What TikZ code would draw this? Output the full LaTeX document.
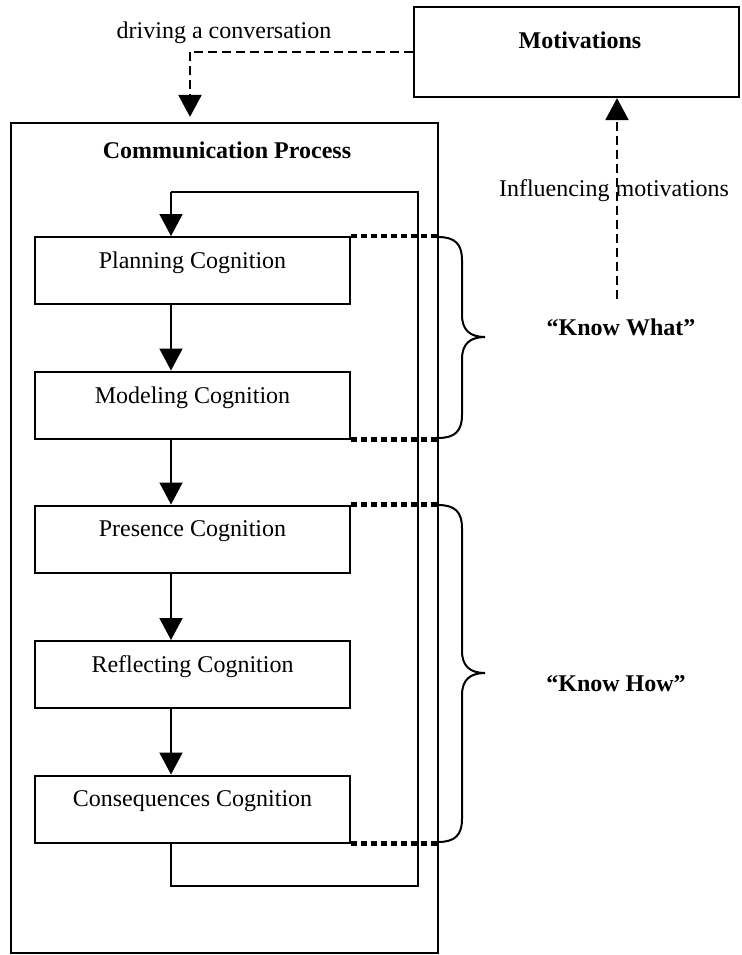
\documentclass[tikz,border=0pt]{standalone}
\usepackage{fontspec}
\setmainfont{Liberation Serif}
\usetikzlibrary{arrows.meta}
\begin{document}
\begin{tikzpicture}[x=0.5pt,y=-0.5pt,
  box/.style={draw,line width=1pt,inner sep=0pt,minimum width=157.5pt,minimum height=33.5pt},
  lbl/.style={inner sep=0pt,font=\fontsize{12pt}{14pt}\selectfont},
  blbl/.style={inner sep=0pt,font=\fontsize{12pt}{14pt}\selectfont\bfseries},
  conn/.style={line width=1pt},
  tip/.style={-{Triangle[width=11.5pt,length=11pt]}},
  arr/.style={conn,tip},
  dashconn/.style={line width=1.1pt,dash pattern=on 4.5pt off 2.5pt},
  dotconn/.style={line width=2.2pt,dash pattern=on 3pt off 2pt},
  bracestyle/.style={line width=1pt}]
\useasboundingbox (0,0) rectangle (741,955);

% containers
\node[draw,line width=1.1pt,inner sep=0pt,minimum width=213.5pt,minimum height=415pt] (outer) at (224.5,538) {};
\node[draw,line width=1.1pt,inner sep=0pt,minimum width=162.5pt,minimum height=45pt] (mot) at (576.5,52) {};
\node[blbl] (motl) at (580,40) {Motivations};
\node[blbl] (cpl) at (227,150) {Communication Process};

% process boxes
\node[box] (plan) at (192.5,270.5) {};
\node[box] (model) at (192.5,405) {};
\node[box] (pres) at (192.5,539) {};
\node[box] (refl) at (192.5,674.5) {};
\node[box] (cons) at (192.5,809) {};
\node[lbl] (planl) at (192.5,263) {Planning Cognition};
\node[lbl] (modell) at (192.5,397.5) {Modeling Cognition};
\node[lbl] (presl) at (192.5,531.5) {Presence Cognition};
\node[lbl] (refll) at (192.5,667) {Reflecting Cognition};
\node[lbl] (consl) at (192.5,801.5) {Consequences Cognition};

% text labels
\node[lbl] (drive) at (224,33) {driving a conversation};
\node[lbl] (infl) at (614,191) {Influencing motivations};
\node[blbl] (kw) at (621,327) {“Know What”};
\node[blbl] (kh) at (616,684) {“Know How”};

% column of arrows
\coordinate (ax) at (171,0);
\draw[arr] (plan.south -| ax) -- (model.north -| ax);
\draw[arr] (model.south -| ax) -- (pres.north -| ax);
\draw[arr] (pres.south -| ax) -- (refl.north -| ax);
\draw[arr] (refl.south -| ax) -- (cons.north -| ax);

% feedback loop
\coordinate (fb1) at (171,886);
\coordinate (fb2) at (418,886);
\coordinate (fb3) at (418,192);
\coordinate (fb4) at (171,192);
\draw[conn] (cons.south -| ax) -- (fb1) -- (fb2) -- (fb3) -- (fb4);
\draw[arr] (fb4) -- (plan.north -| ax);

% motivations connectors
\coordinate (dv) at (190,52);
\draw[dashconn] (mot.west) -- (dv);
\draw[dashconn,tip,shorten >=2.5pt] (dv) -- (outer.north -| dv);
\coordinate (iv) at (617,299);
\draw[dashconn,tip] (iv) -- (mot.south -| iv);

% dotted leaders
\draw[dotconn] (plan.north east) -- (plan.north east -| outer.east);
\draw[dotconn] (model.south east) -- (model.south east -| outer.east);
\draw[dotconn] (pres.north east) -- (pres.north east -| outer.east);
\draw[dotconn] (cons.south east) -- (cons.south east -| outer.east);

% braces
\draw[bracestyle] (438,237) .. controls (455,237) and (462,244) .. (462,260) -- (462,315)
  .. controls (462,330) and (470,337) .. (485,337)
  .. controls (470,337) and (462,344) .. (462,359) -- (462,415)
  .. controls (462,431) and (455,438) .. (438,438);
\draw[bracestyle] (438,505) .. controls (455,505) and (462,512) .. (462,528) -- (462,651)
  .. controls (462,666) and (470,673) .. (485,673)
  .. controls (470,673) and (462,680) .. (462,695) -- (462,819)
  .. controls (462,835) and (455,842) .. (438,842);
\end{tikzpicture}
\end{document}
